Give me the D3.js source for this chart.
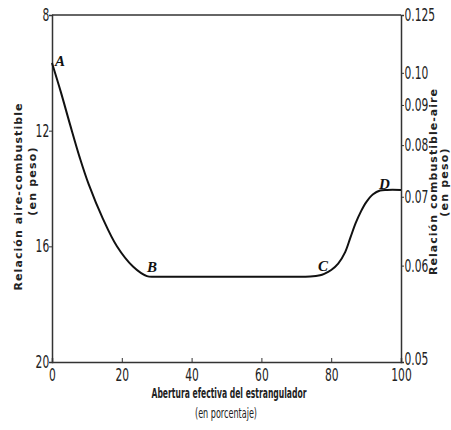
<!DOCTYPE html>
<html><head><meta charset="utf-8">
<script src="https://cdn.jsdelivr.net/npm/d3@7/dist/d3.min.js"></script>
<style>
body{margin:0;background:#fff;}
.tick text{font-family:'Liberation Sans Narrow','DejaVu Sans Condensed',sans-serif;font-size:17px;fill:#222;}
</style></head>
<body><svg id="c" width="451" height="430"></svg>
<script>
// Data
const throttle = [0, 2.5, 5.2, 8, 10.5, 14.6, 18.6, 23.2, 27.2, 30, 50, 74, 76.8, 78, 80, 82, 84, 85.5, 87, 88.5, 90, 92, 94, 96, 100];
const airFuel  = [9.66, 10.65, 11.8, 12.95, 13.85, 15.05, 16.0, 16.7, 17.03, 17.05, 17.05, 17.04, 17.0, 16.95, 16.82, 16.6, 16.2, 15.7, 15.2, 14.8, 14.48, 14.2, 14.07, 14.05, 14.05];
const pointLabels = ["A", "B", "C", "D"];
const pointIndex = [0, 8, 12, 22];
const xTicks = [0, 20, 40, 60, 80, 100];
const yTicks = [8, 12, 16, 20];
const rightTicks = [0.125, 0.10, 0.09, 0.08, 0.07, 0.06, 0.05];
const rightTickLabels = ["0.125", "0.10", "0.09", "0.08", "0.07", "0.06", "0.05"];

const svg = d3.select("#c");
const m = {l:52, r:401, t:15, b:362};
const x = d3.scaleLinear().domain([0,100]).range([m.l, m.r]);
const y = d3.scaleLinear().domain([8,20]).range([m.t, m.b]);
const axisCol = "#333";
const narrow = "scale(0.7,1)";

// frame top line
svg.append("line").attr("x1",x(0)).attr("x2",x(100)).attr("y1",y(8)).attr("y2",y(8))
  .attr("stroke",axisCol).attr("stroke-width",1.5);

// left axis
const gl = svg.append("g").attr("transform",`translate(${x(0)},0)`)
  .call(d3.axisLeft(y).tickValues(yTicks).tickSize(3).tickPadding(1).tickFormat(d3.format("d")));
gl.select(".domain").attr("stroke",axisCol).attr("stroke-width",1.5);
gl.selectAll(".tick line").attr("stroke",axisCol);
gl.selectAll(".tick").filter(d=>d===8||d===20).select("line").remove();
gl.selectAll(".tick text").attr("transform",narrow);

// right axis (fuel-air = 1 / air-fuel)
const gr = svg.append("g").attr("transform",`translate(${x(100)},0)`)
  .call(d3.axisRight(d3.scaleLinear().domain([8,20]).range([m.t,m.b]))
    .tickValues(rightTicks.map(v=>1/v)).tickSize(3).tickPadding(2)
    .tickFormat((d,i)=>rightTickLabels[i]));
gr.select(".domain").attr("stroke",axisCol).attr("stroke-width",1.5);
gr.selectAll(".tick line").attr("stroke",axisCol);
gr.selectAll(".tick").filter((d,i)=>i===0||i===rightTicks.length-1).select("line").remove();
gr.selectAll(".tick text").attr("transform",narrow);
gr.selectAll(".tick").filter((d,i)=>i===rightTicks.length-1).select("text").attr("dy","0.15em");

// bottom axis
const gb = svg.append("g").attr("transform",`translate(0,${y(20)})`)
  .call(d3.axisBottom(x).tickValues(xTicks).tickSize(-4).tickPadding(8).tickFormat(d3.format("d")));
gb.select(".domain").attr("stroke",axisCol).attr("stroke-width",1.5);
gb.selectAll(".tick line").attr("stroke",axisCol);
gb.selectAll(".tick").filter(d=>d===0||d===100).select("line").remove();
gb.selectAll(".tick text").attr("transform",narrow).attr("dy","0.65em");

// curve
const pts = throttle.map((t,i)=>[t, airFuel[i]]);
svg.append("path").datum(pts)
  .attr("d", d3.line().x(d=>x(d[0])).y(d=>y(d[1])).curve(d3.curveCatmullRom.alpha(0.5)))
  .attr("fill","none").attr("stroke","#111").attr("stroke-width",2);

// point labels
const offs = [[3,3],[0,-4],[-2,-4],[-1,-2]];
svg.selectAll("text.pl").data(pointLabels).join("text").attr("class","pl")
  .attr("x",(d,i)=>x(throttle[pointIndex[i]])+offs[i][0])
  .attr("y",(d,i)=>y(airFuel[pointIndex[i]])+offs[i][1])
  .attr("font-family","'Liberation Serif',serif").attr("font-style","italic").attr("font-weight","bold")
  .attr("font-size",15).attr("fill","#111").text(d=>d);

// axis titles
svg.append("text").attr("x",229).attr("y",398).attr("text-anchor","middle")
  .attr("font-family","'Liberation Sans Narrow','DejaVu Sans Condensed',sans-serif").attr("font-weight","bold")
  .attr("font-size",14).attr("fill","#222").attr("textLength",155).attr("lengthAdjust","spacingAndGlyphs")
  .text("Abertura efectiva del estrangulador");
svg.append("text").attr("x",226).attr("y",418).attr("text-anchor","middle")
  .attr("font-family","'Liberation Sans Narrow','DejaVu Sans Condensed',sans-serif")
  .attr("font-size",14).attr("fill","#222").attr("textLength",62).attr("lengthAdjust","spacingAndGlyphs")
  .text("(en porcentaje)");

function vtitle(cx, cy, txt, len){
  const t = svg.append("text").attr("transform",`translate(${cx},${cy}) rotate(-90)`)
    .attr("text-anchor","middle").attr("font-family","'DejaVu Sans',sans-serif")
    .attr("font-weight","bold").attr("font-size",11).attr("fill","#222");
  if (len) t.attr("textLength",len).attr("lengthAdjust","spacing");
  else t.attr("letter-spacing","1.2px");
  t.text(txt);
}
vtitle(22, 197, "Relación  aire-combustible", 187);
vtitle(36, 181, "(en peso)");
vtitle(437, 182, "Relación  combustible-aire", 186);
vtitle(448, 182, "(en peso)");
</script></body></html>
